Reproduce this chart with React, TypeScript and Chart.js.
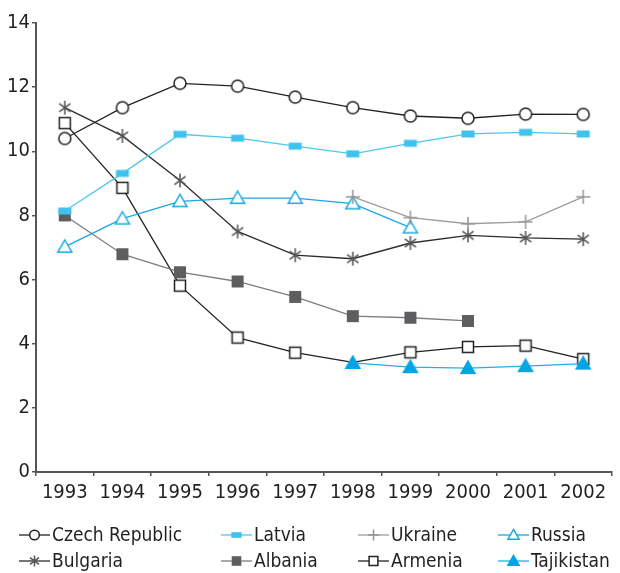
import React, { useEffect, useRef } from 'react';
import { Chart, registerables } from 'chart.js';

Chart.register(...registerables);

const years = ['1993', '1994', '1995', '1996', '1997', '1998', '1999', '2000', '2001', '2002'];
const czech = [10.4, 11.36, 12.12, 12.03, 11.69, 11.36, 11.1, 11.03, 11.16, 11.15];
const latvia = [8.14, 9.31, 10.53, 10.41, 10.16, 9.92, 10.25, 10.54, 10.59, 10.54];
const ukraine = [null, null, null, null, null, 8.58, 7.93, 7.74, 7.8, 8.58];
const russia = [7.02, 7.9, 8.44, 8.54, 8.54, 8.37, 7.62, null, null, null];
const bulgaria = [11.36, 10.48, 9.09, 7.5, 6.76, 6.65, 7.14, 7.38, 7.3, 7.26];
const albania = [8.0, 6.79, 6.23, 5.94, 5.46, 4.86, 4.81, 4.71, null, null];
const armenia = [10.88, 8.86, 5.81, 4.19, 3.72, 3.42, 3.73, 3.9, 3.94, 3.52];
const tajikistan = [null, null, null, null, null, 3.4, 3.27, 3.24, 3.3, 3.38];
const yTicks = [0, 2, 4, 6, 8, 10, 12, 14];

const FONT = '"DejaVu Sans Condensed", Roboto, sans-serif';
const TEXT = '#231f20';

type Kind = 'circle' | 'bar' | 'plus' | 'triOpen' | 'star' | 'sqFill' | 'sqOpen' | 'triFill';

function drawShape(ctx: CanvasRenderingContext2D, kind: Kind, x: number, y: number, k: number, color: string) {
  ctx.save();
  ctx.lineWidth = 1.5;
  ctx.strokeStyle = color;
  ctx.fillStyle = color;
  ctx.beginPath();
  switch (kind) {
    case 'circle': {
      const r = 6 * k;
      ctx.arc(x, y, r, 0, Math.PI * 2);
      ctx.fillStyle = '#fff';
      ctx.fill();
      ctx.stroke();
      break;
    }
    case 'bar': {
      const w = 6.5 * k, h = 3.5 * k;
      ctx.fillRect(x - w, y - h, 2 * w, 2 * h);
      break;
    }
    case 'plus': {
      const a = 7 * k;
      ctx.moveTo(x - a, y); ctx.lineTo(x + a, y);
      ctx.moveTo(x, y - a); ctx.lineTo(x, y + a);
      ctx.stroke();
      break;
    }
    case 'star': {
      const a = 7 * k;
      const d = a * 0.8;
      ctx.moveTo(x - d, y - d * 0.75); ctx.lineTo(x + d, y + d * 0.75);
      ctx.moveTo(x + d, y - d * 0.75); ctx.lineTo(x - d, y + d * 0.75);
      ctx.moveTo(x, y - a); ctx.lineTo(x, y + a);
      ctx.stroke();
      break;
    }
    case 'triOpen':
    case 'triFill': {
      const s = 7 * k;
      ctx.moveTo(x, y - s);
      ctx.lineTo(x + s, y + s * 0.75);
      ctx.lineTo(x - s, y + s * 0.75);
      ctx.closePath();
      if (kind === 'triOpen') {
        ctx.fillStyle = '#fff';
        ctx.fill();
        ctx.stroke();
      } else {
        ctx.fill();
        ctx.stroke();
      }
      break;
    }
    case 'sqFill': {
      const h = 6 * k;
      ctx.fillRect(x - h, y - h, 2 * h, 2 * h);
      break;
    }
    case 'sqOpen': {
      const h = 5.5 * k;
      ctx.rect(x - h, y - h, 2 * h, 2 * h);
      ctx.fillStyle = '#fff';
      ctx.fill();
      ctx.stroke();
      break;
    }
  }
  ctx.restore();
}

function markerCanvas(kind: Kind, color: string): HTMLCanvasElement {
  const c = document.createElement('canvas');
  c.width = 18;
  c.height = 18;
  const ctx = c.getContext('2d')!;
  drawShape(ctx, kind, 9, 9, 1, color);
  return c;
}

interface SeriesDef {
  label: string;
  data: (number | null)[];
  line: string;
  mark: string;
  kind: Kind;
  order: number;
  radius?: number[];
}

const series: SeriesDef[] = [
  { label: 'Czech Republic', data: czech, line: '#222222', mark: '#222222', kind: 'circle', order: 1 },
  { label: 'Latvia', data: latvia, line: '#4cc8f2', mark: '#40c2ee', kind: 'bar', order: 2 },
  { label: 'Ukraine', data: ukraine, line: '#9d9d9d', mark: '#959595', kind: 'plus', order: 3 },
  { label: 'Russia', data: russia, line: '#17a8e3', mark: '#17a8e3', kind: 'triOpen', order: 4 },
  { label: 'Bulgaria', data: bulgaria, line: '#2d2d2d', mark: '#555555', kind: 'star', order: 5 },
  { label: 'Albania', data: albania, line: '#7d7d7d', mark: '#5d5e60', kind: 'sqFill', order: 6 },
  { label: 'Armenia', data: armenia, line: '#222222', mark: '#222222', kind: 'sqOpen', order: 8, radius: [5, 5, 5, 5, 5, 0, 5, 5, 5, 5] },
  { label: 'Tajikistan', data: tajikistan, line: '#1fb0e8', mark: '#00a5e3', kind: 'triFill', order: 7 },
];

const legendCols = [19, 221, 358, 498];
const legendRows = [535, 561];

const legendPlugin = {
  id: 'customLegend',
  afterDraw(chart: Chart) {
    const ctx = chart.ctx;
    ctx.save();
    series.forEach((s, i) => {
      const col = i % 4;
      const row = Math.floor(i / 4);
      const x0 = legendCols[col];
      const y = legendRows[row];
      ctx.strokeStyle = s.line;
      ctx.lineWidth = 1.3;
      ctx.beginPath();
      ctx.moveTo(x0, y);
      ctx.lineTo(x0 + 31, y);
      ctx.stroke();
      drawShape(ctx, s.kind, x0 + 15.5, y, 0.8, s.mark);
      ctx.fillStyle = TEXT;
      ctx.font = `19px ${FONT}`;
      ctx.textBaseline = 'middle';
      ctx.textAlign = 'left';
      ctx.fillText(s.label, x0 + 33, y + 1);
    });
    ctx.restore();
  },
};

export default function App() {
  const ref = useRef<HTMLCanvasElement | null>(null);
  useEffect(() => {
    if (!ref.current) return;
    const chart = new Chart(ref.current, {
      type: 'line',
      data: {
        labels: years,
        datasets: series.map((s) => {
          const img = markerCanvas(s.kind, s.mark);
          return {
            label: s.label,
            data: s.data,
            borderColor: s.line,
            backgroundColor: s.mark,
            borderWidth: 1.3,
            pointStyle: s.radius ? s.radius.map((r) => (r === 0 ? false : img)) : img,
            pointRadius: s.radius ?? 5,
            pointHoverRadius: 5,
            tension: 0,
            spanGaps: false,
            order: s.order,
          } as any;
        }),
      },
      options: {
        responsive: false,
        devicePixelRatio: 1,
        animation: false,
        layout: { padding: { top: 23, right: 8, bottom: 0, left: 0 } },
        plugins: { legend: { display: false }, tooltip: { enabled: false } },
        scales: {
          x: {
            type: 'category',
            offset: true,
            border: { color: '#555555', width: 2 },
            grid: { offset: true, drawOnChartArea: false, drawTicks: true, tickLength: 4, color: '#555555', lineWidth: 1.5 },
            ticks: { color: TEXT, font: { family: FONT, size: 20 }, padding: 5, maxRotation: 0, autoSkip: false },
            afterFit: (scale: any) => {
              scale.height = 101;
            },
          },
          y: {
            min: 0,
            max: 14,
            border: { color: '#555555', width: 2 },
            grid: { drawOnChartArea: false, drawTicks: true, tickLength: 4, color: '#555555', lineWidth: 1.5 },
            afterBuildTicks: (scale: any) => {
              scale.ticks = yTicks.map((v) => ({ value: v }));
            },
            ticks: { color: TEXT, font: { family: FONT, size: 20 }, padding: 2 },
            afterFit: (scale: any) => {
              scale.width = 36;
            },
          },
        },
      },
      plugins: [legendPlugin],
    });
    return () => chart.destroy();
  }, []);
  return (
    <div style={{ position: 'absolute', left: 0, top: 0, width: 620, height: 573, background: '#fff' }}>
      <canvas ref={ref} width={620} height={573} />
    </div>
  );
}
